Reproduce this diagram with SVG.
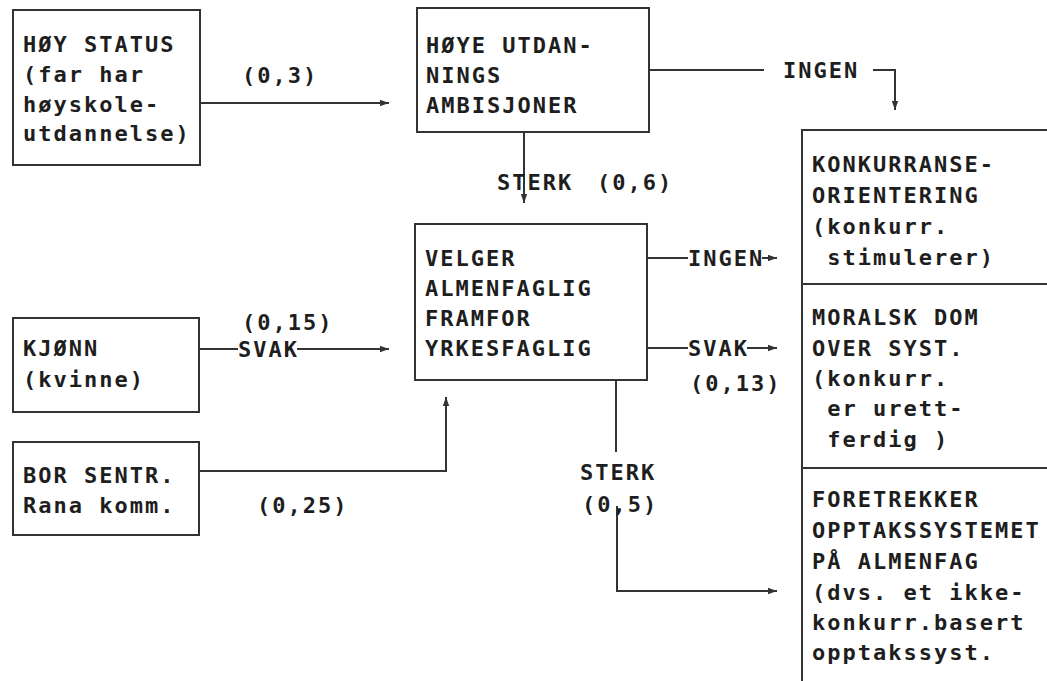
<svg xmlns="http://www.w3.org/2000/svg" width="1047" height="681" viewBox="0 0 1047 681">
<style>
.t{font-family:"DejaVu Sans Mono","Liberation Mono",monospace;font-weight:bold;font-size:22px;letter-spacing:2px;fill:#1e1e1e;white-space:pre}
.b{fill:none;stroke:#333;stroke-width:2}
.c{fill:none;stroke:#333;stroke-width:2}
</style>
<defs>
<marker id="ah" markerUnits="userSpaceOnUse" markerWidth="10" markerHeight="8" refX="9" refY="4" orient="auto">
<path d="M0,0.8 L9,4 L0,7.2 z" fill="#333"/>
</marker>
</defs>
<rect width="1047" height="681" fill="#fff"/>
<g id="connectors">
<line class="c" x1="200" y1="103" x2="389" y2="103" marker-end="url(#ah)"/>
<line class="c" x1="649" y1="70" x2="764" y2="70"/>
<polyline class="c" points="873,70 895,70 895,110" marker-end="url(#ah)"/>
<line class="c" x1="524" y1="132" x2="524" y2="203" marker-end="url(#ah)"/>
<line class="c" x1="647" y1="258" x2="688" y2="258"/>
<line class="c" x1="762" y1="258" x2="777" y2="258" marker-end="url(#ah)"/>
<line class="c" x1="647" y1="348" x2="688" y2="348"/>
<line class="c" x1="747" y1="348" x2="777" y2="348" marker-end="url(#ah)"/>
<line class="c" x1="199" y1="349" x2="238" y2="349"/>
<line class="c" x1="297" y1="349" x2="389" y2="349" marker-end="url(#ah)"/>
<polyline class="c" points="199,471 446,471 446,397" marker-end="url(#ah)"/>
<line class="c" x1="616" y1="380" x2="616" y2="452"/>
<polyline class="c" points="617,506 617,591 777,591" marker-end="url(#ah)"/>
<text class="t" x="242" y="83">(0,3)</text>
<text class="t" x="783" y="78">INGEN</text>
<text class="t" x="497" y="190">STERK</text>
<text class="t" x="597" y="190">(0,6)</text>
<text class="t" x="688" y="266">INGEN</text>
<text class="t" x="688" y="356">SVAK</text>
<text class="t" x="690" y="391">(0,13)</text>
<text class="t" x="242" y="330">(0,15)</text>
<text class="t" x="238" y="357">SVAK</text>
<text class="t" x="257" y="513">(0,25)</text>
<text class="t" x="580" y="480">STERK</text>
<text class="t" x="582" y="512">(0,5)</text>
</g>
<g id="hoy-status">
<rect class="b" x="13" y="10" width="187" height="155"/>
<text class="t" x="23" y="52">HØY STATUS</text>
<text class="t" x="23" y="82">(far har</text>
<text class="t" x="23" y="112">høyskole-</text>
<text class="t" x="23" y="141">utdannelse)</text>
</g>
<g id="hoye-utdanning">
<rect class="b" x="417" y="8" width="232" height="124"/>
<text class="t" x="426" y="53">HØYE UTDAN-</text>
<text class="t" x="426" y="83">NINGS</text>
<text class="t" x="426" y="113">AMBISJONER</text>
</g>
<g id="velger">
<rect class="b" x="415" y="224" width="232" height="156"/>
<text class="t" x="425" y="266">VELGER</text>
<text class="t" x="425" y="296">ALMENFAGLIG</text>
<text class="t" x="425" y="326">FRAMFOR</text>
<text class="t" x="425" y="356">YRKESFAGLIG</text>
</g>
<g id="kjonn">
<rect class="b" x="13" y="318" width="186" height="94"/>
<text class="t" x="23" y="356">KJØNN</text>
<text class="t" x="23" y="387">(kvinne)</text>
</g>
<g id="bor-sentr">
<rect class="b" x="13" y="442" width="186" height="93"/>
<text class="t" x="23" y="483">BOR SENTR.</text>
<text class="t" x="23" y="513">Rana komm.</text>
</g>
<g id="utfall">
<rect class="b" x="802" y="130" width="260" height="570"/>
<line class="b" x1="802" y1="284" x2="1047" y2="284"/>
<line class="b" x1="802" y1="468" x2="1047" y2="468"/>
</g>
<g id="konkurranse">
<text class="t" x="812" y="172">KONKURRANSE-</text>
<text class="t" x="812" y="203">ORIENTERING</text>
<text class="t" x="812" y="234">(konkurr.</text>
<text class="t" x="812" y="265"> stimulerer)</text>
</g>
<g id="moralsk">
<text class="t" x="812" y="325">MORALSK DOM</text>
<text class="t" x="812" y="356">OVER SYST.</text>
<text class="t" x="812" y="386">(konkurr.</text>
<text class="t" x="812" y="416"> er urett-</text>
<text class="t" x="812" y="447"> ferdig )</text>
</g>
<g id="foretrekker">
<text class="t" x="812" y="507">FORETREKKER</text>
<text class="t" x="812" y="538">OPPTAKSSYSTEMET</text>
<text class="t" x="812" y="569">PÅ ALMENFAG</text>
<text class="t" x="812" y="600">(dvs. et ikke-</text>
<text class="t" x="812" y="630">konkurr.basert</text>
<text class="t" x="812" y="660">opptakssyst.</text>
</g>
</svg>
